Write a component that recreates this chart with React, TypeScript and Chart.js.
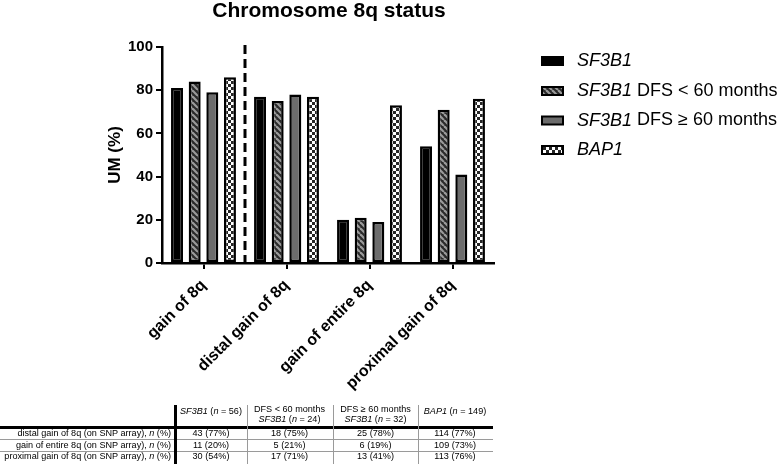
import React, { useEffect, useRef } from "react";
import { Chart, registerables } from "chart.js";
Chart.register(...registerables);

const categories = ["gain of 8q", "distal gain of 8q", "gain of entire 8q", "proximal gain of 8q"];
const sf3b1 = [81, 77, 20, 54];
const sf3b1Short = [84, 75, 21, 71];
const sf3b1Long = [79, 78, 19, 41];
const bap1 = [86, 77, 73, 76];
const yMin = 0;
const yMax = 100;
const yStep = 20;

const legendItalic = ["SF3B1", "SF3B1", "SF3B1", "BAP1"];
const legendRest = ["", " DFS < 60 months", " DFS \u2265 60 months", ""];

const tableRowLabels = [
  "distal gain of 8q (on SNP array), ",
  "gain of entire 8q (on SNP array), ",
  "proximal gain of 8q (on SNP array), ",
];
const tableColSF3B1 = ["43 (77%)", "11 (20%)", "30 (54%)"];
const tableColShort = ["18 (75%)", "5 (21%)", "17 (71%)"];
const tableColLong = ["25 (78%)", "6 (19%)", "13 (41%)"];
const tableColBAP1 = ["114 (77%)", "109 (73%)", "113 (76%)"];

const FONT = "'Liberation Sans', Arial, Helvetica, sans-serif";

function stripePattern(ctx: CanvasRenderingContext2D) {
  const c = document.createElement("canvas");
  c.width = 6;
  c.height = 6;
  const g = c.getContext("2d")!;
  g.fillStyle = "#2a2a2a";
  g.fillRect(0, 0, 6, 6);
  g.strokeStyle = "#9a9a9a";
  g.lineWidth = 2.2;
  for (const k of [-6, 0, 6]) {
    g.beginPath();
    g.moveTo(k, 0);
    g.lineTo(k + 6, 6);
    g.stroke();
  }
  return ctx.createPattern(c, "repeat")!;
}

function checkerPattern(ctx: CanvasRenderingContext2D) {
  const c = document.createElement("canvas");
  c.width = 6;
  c.height = 6;
  const g = c.getContext("2d")!;
  g.fillStyle = "#ffffff";
  g.fillRect(0, 0, 6, 6);
  g.fillStyle = "#262626";
  g.fillRect(0, 0, 3, 3);
  g.fillRect(3, 3, 3, 3);
  return ctx.createPattern(c, "repeat")!;
}

export default function App() {
  const ref = useRef<HTMLCanvasElement>(null);

  useEffect(() => {
    const canvas = ref.current!;
    const ctx = canvas.getContext("2d")!;
    const stripes = stripePattern(ctx);
    const checker = checkerPattern(ctx);
    const fills = ["#000000", stripes, "#6c6c6c", checker];

    const overlay = {
      id: "overlay",
      afterDraw(chart: any) {
        const c = chart.ctx as CanvasRenderingContext2D;
        const xs = chart.scales.x;
        const ys = chart.scales.y;
        c.save();
        // dashed separator
        const dx = (xs.getPixelForValue(0) + xs.getPixelForValue(1)) / 2;
        c.setLineDash([9, 5]);
        c.lineWidth = 3;
        c.strokeStyle = "#000";
        c.beginPath();
        c.moveTo(dx, ys.getPixelForValue(yMax) - 2);
        c.lineTo(dx, ys.getPixelForValue(yMin));
        c.stroke();
        c.setLineDash([]);
        // title
        c.fillStyle = "#000";
        c.font = `bold 21px ${FONT}`;
        c.textAlign = "center";
        c.textBaseline = "middle";
        c.fillText("Chromosome 8q status", 329, 11);
        // y title
        c.save();
        c.translate(115, 155);
        c.rotate(-Math.PI / 2);
        c.font = `bold 17px ${FONT}`;
        c.fillText("UM (%)", 0, 0);
        c.restore();
        // legend
        const ly = [61, 91, 120.5, 150];
        for (let i = 0; i < 4; i++) {
          const bx = 541, bw = 23, bh = 10;
          const by = ly[i] - bh / 2;
          c.fillStyle = "#000";
          c.fillRect(bx, by, bw, bh);
          if (i > 0) {
            c.fillStyle = fills[i] as any;
            c.fillRect(bx + 2, by + 2, bw - 4, bh - 4);
          }
          c.textAlign = "left";
          c.textBaseline = "middle";
          c.fillStyle = "#000";
          c.font = `italic 18px ${FONT}`;
          c.fillText(legendItalic[i], 577, ly[i]);
          const w = c.measureText(legendItalic[i]).width;
          c.font = `18px ${FONT}`;
          c.fillText(legendRest[i], 577 + w, ly[i]);
        }
        c.restore();
      },
    };

    const mk = (label: string, data: number[], i: number) => ({
      label,
      data,
      backgroundColor: fills[i] as any,
      borderColor: "#000",
      borderWidth: 2.5,
      borderSkipped: false as any,
      categoryPercentage: 0.85,
      barPercentage: 0.68,
    });

    const chart = new Chart(canvas, {
      type: "bar",
      data: {
        labels: categories,
        datasets: [
          mk("SF3B1", sf3b1, 0),
          mk("SF3B1 DFS < 60 months", sf3b1Short, 1),
          mk("SF3B1 DFS \u2265 60 months", sf3b1Long, 2),
          mk("BAP1", bap1, 3),
        ],
      },
      options: {
        responsive: false,
        animation: false,
        devicePixelRatio: 1,
        layout: { padding: { top: 47, right: 286, left: 0, bottom: 0 } },
        plugins: { legend: { display: false }, title: { display: false }, tooltip: { enabled: false } },
        scales: {
          x: {
            afterFit(scale: any) {
              scale.height = 201;
            },
            border: { color: "#000", width: 2.5 },
            grid: { display: true, drawOnChartArea: false, drawTicks: true, tickLength: 6, color: "#000", lineWidth: 2, offset: false },
            ticks: {
              color: "#000",
              font: { family: FONT, size: 16, weight: "bold" },
              maxRotation: 45,
              minRotation: 45,
              autoSkip: false,
              padding: 7,
            },
          },
          y: {
            min: yMin,
            max: yMax,
            afterFit(scale: any) {
              scale.width = 162;
            },
            border: { color: "#000", width: 2.5 },
            grid: { display: true, drawOnChartArea: false, drawTicks: true, tickLength: 6, color: "#000", lineWidth: 2 },
            ticks: {
              stepSize: yStep,
              color: "#000",
              font: { family: FONT, size: 15, weight: "bold" },
              padding: 3,
            },
          },
        },
      },
      plugins: [overlay],
    });
    return () => chart.destroy();
  }, []);

  const FS = 9.1;
  const cellStyle = (cx: number, top: number, lh: number): React.CSSProperties => ({
    position: "absolute",
    left: cx - 50,
    width: 100,
    top,
    textAlign: "center",
    fontSize: FS,
    lineHeight: `${lh}px`,
    whiteSpace: "nowrap",
  });
  const colCenters = [211, 289.5, 375.5, 455];
  const rowCenters = [433.5, 445, 456.5];
  const cols = [tableColSF3B1, tableColShort, tableColLong, tableColBAP1];

  return (
    <div style={{ position: "fixed", left: 0, top: 0, width: 780, height: 464, background: "#fff", fontFamily: FONT, color: "#000" }}>
      <canvas ref={ref} width={780} height={464} style={{ position: "absolute", left: 0, top: 0 }} />
      {/* table header */}
      <div style={cellStyle(colCenters[0], 405.5, 11)}>
        <i>SF3B1</i> (<i>n</i> = 56)
      </div>
      <div style={cellStyle(colCenters[1], 405, 9.5)}>
        DFS &lt; 60 months
        <br />
        <i>SF3B1</i> (<i>n</i> = 24)
      </div>
      <div style={cellStyle(colCenters[2], 405, 9.5)}>
        DFS &#8805; 60 months
        <br />
        <i>SF3B1</i> (<i>n</i> = 32)
      </div>
      <div style={cellStyle(colCenters[3], 405.5, 11)}>
        <i>BAP1</i> (<i>n</i> = 149)
      </div>
      {/* rows */}
      {tableRowLabels.map((lab, r) => (
        <div
          key={"l" + r}
          style={{
            position: "absolute",
            left: 0,
            width: 171,
            top: rowCenters[r] - 5.5,
            textAlign: "right",
            fontSize: FS,
            lineHeight: "11px",
            whiteSpace: "nowrap",
          }}
        >
          {lab}
          <i>n</i> (%)
        </div>
      ))}
      {cols.map((col, ci) =>
        col.map((v, r) => (
          <div key={`c${ci}-${r}`} style={cellStyle(colCenters[ci], rowCenters[r] - 5.5, 11)}>
            {v}
          </div>
        ))
      )}
      {/* lines */}
      <div style={{ position: "absolute", left: 0, top: 426, width: 493, height: 3, background: "#000" }} />
      <div style={{ position: "absolute", left: 0, top: 439, width: 493, height: 1, background: "#9a9a9a" }} />
      <div style={{ position: "absolute", left: 0, top: 450.5, width: 493, height: 1, background: "#9a9a9a" }} />
      <div style={{ position: "absolute", left: 174, top: 405, width: 2.5, height: 59, background: "#000" }} />
      {[246.5, 333, 418].map((x, i) => (
        <div key={"v" + i} style={{ position: "absolute", left: x, top: 405, width: 1, height: 59, background: "#9a9a9a" }} />
      ))}
    </div>
  );
}
